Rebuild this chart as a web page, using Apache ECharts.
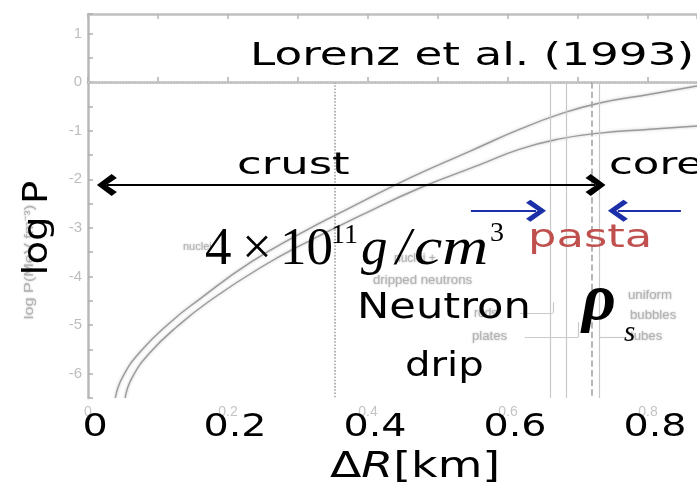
<!DOCTYPE html>
<html>
<head>
<meta charset="utf-8">
<script src="https://cdn.jsdelivr.net/npm/echarts@6/dist/echarts.min.js"></script>
<style>
  html, body { margin: 0; padding: 0; background: #ffffff; }
  #chart { width: 697px; height: 490px; }
</style>
</head>
<body>
<div id="chart"></div>
<script>
// Pressure against depth below the stellar surface (log P vs ΔR in km)
const upperCurve = [
  [0.039, -6.5], [0.049, -6.08], [0.074, -5.56], [0.117, -4.95], [0.16, -4.46],
  [0.231, -3.72], [0.303, -3.12], [0.374, -2.59], [0.46, -1.97], [0.546, -1.42],
  [0.617, -0.97], [0.674, -0.66], [0.731, -0.43], [0.803, -0.25], [0.875, -0.07]
];
const lowerCurve = [
  [0.053, -6.5], [0.063, -6.08], [0.089, -5.56], [0.129, -5.01], [0.174, -4.5],
  [0.246, -3.82], [0.317, -3.26], [0.389, -2.75], [0.474, -2.18], [0.56, -1.7],
  [0.617, -1.38], [0.674, -1.17], [0.731, -1.05], [0.803, -0.97], [0.875, -0.9]
];

// Phase boundaries (km): neutron drip, then the pasta transitions
const boundaryDepths = [0.353, 0.66, 0.683, 0.72, 0.731];
const boundaryKinds  = ['dotted', 'solid', 'solid', 'dashed', 'solid'];

// Axis ticks
const tickValues = [0, 0.2, 0.4, 0.6, 0.8];
const tickLabels = ['0', '0.2', '0.4', '0.6', '0.8'];

// Region arrows (km, tip positions) and the log P level where they sit
const crustSpan = [0.013, 0.739];
const coreSpan  = [0.744, 1.0];
const regionLevel = -2.12;
const pastaFromLeft  = [0.547, 0.654];
const pastaFromRight = [0.847, 0.743];
const pastaLevel = -2.65;

// Leader lines of the small phase labels: [x0, y0, x1, y1]
const leaderLines = [
  [0.617, -4.75, 0.664, -4.75], [0.664, -4.75, 0.664, -4.53],
  [0.624, -5.25, 0.70, -5.25],  [0.70, -5.25, 0.70, -4.94],
  [0.731, -5.25, 0.77, -5.25]
];

const X_MAX = 0.87;          // visible end of the depth axis
const HEAD_INSET = 0.014;    // half a chevron, in km, so the tip lands on the given depth
const CHEVRON = 'path://M11,0 L22,14 L18,19 L11,9 L4,19 L0,14 Z';
const CHEVRON_THIN = 'path://M11,0 L22,14 L19,18 L11,7.5 L3,18 L0,14 Z';
const RAISED = 'DejaVu Sans';
const SERIF = '"Liberation Serif", "Times New Roman", serif';

function arrowPair(a, b, y, color, startHead, endHead, head) {
  const dir = b > a ? 1 : -1;
  const a2 = startHead ? a + dir * HEAD_INSET : a;
  const b2 = endHead ? b - dir * HEAD_INSET : b;
  return [
    { coord: [a2, y], symbol: startHead ? head : 'none', symbolSize: [22, 20],
      lineStyle: { color, width: 2, type: 'solid' }, itemStyle: { color } },
    { coord: [b2, y], symbol: endHead ? head : 'none', symbolSize: [22, 20],
      lineStyle: { color, width: 2, type: 'solid' }, itemStyle: { color } }
  ];
}

const markLines = [];
boundaryDepths.forEach((d, i) => {
  const kind = boundaryKinds[i];
  const col = kind === 'solid' ? '#c8c8c8' : '#a4a4a4';
  markLines.push([
    { coord: [d, 0], lineStyle: { color: col, width: kind === 'solid' ? 1.2 : 1.6, type: kind } },
    { coord: [d, -6.5] }
  ]);
});
markLines.push([
  { coord: [0, 0], lineStyle: { color: '#d2d2d2', width: 1.5, type: 'dotted' } },
  { coord: [X_MAX, 0] }
]);
leaderLines.forEach(l => {
  markLines.push([
    { coord: [l[0], l[1]], lineStyle: { color: '#cacaca', width: 1.2, type: 'solid' } },
    { coord: [l[2], l[3]] }
  ]);
});
markLines.push(arrowPair(crustSpan[0], crustSpan[1], regionLevel, '#000000', true, true, CHEVRON));
markLines.push(arrowPair(coreSpan[0], coreSpan[1], regionLevel, '#000000', true, false, CHEVRON));
markLines.push(arrowPair(pastaFromLeft[0], pastaFromLeft[1], pastaLevel, '#1a2fa8', false, true, CHEVRON_THIN));
markLines.push(arrowPair(pastaFromRight[0], pastaFromRight[1], pastaLevel, '#1a2fa8', false, true, CHEVRON_THIN));

const isMajor = v => Math.abs(v * 5 - Math.round(v * 5)) < 1e-6;
const tickText = v => {
  const i = tickValues.findIndex(t => Math.abs(t - v) < 1e-6);
  return i >= 0 ? tickLabels[i] : '';
};

const curveStyle = {
  color: '#9a9a9a', width: 1.4,
  shadowBlur: 3, shadowColor: 'rgba(140,140,140,0.55)'
};

const chart = echarts.init(document.getElementById('chart'), null, { renderer: 'canvas' });

const option = {
  animation: false,
  backgroundColor: '#ffffff',
  grid: { left: 88, top: 14, right: 0, bottom: 92, show: false, containLabel: false, outerBoundsMode: 'none' },
  xAxis: [
    {
      type: 'value', position: 'bottom', min: 0, max: X_MAX, interval: 0.1,
      axisLine: { lineStyle: { color: '#b8b8b8', width: 2.5 } },
      axisTick: { inside: true, length: 5, lineStyle: { color: '#b0b0b0', width: 1.5 } },
      splitLine: { show: false },
      axisLabel: {
        margin: 7, color: '#c4c4c4', fontSize: 14, fontFamily: 'Liberation Sans',
        showMaxLabel: false,
        formatter: v => (isMajor(v) ? tickText(v) : '')
      }
    },
    {
      type: 'value', position: 'top', min: 0, max: X_MAX, interval: 0.1,
      axisLine: { lineStyle: { color: '#c0c0c0', width: 2.5 } },
      axisTick: { inside: true, length: 5, lineStyle: { color: '#b8b8b8', width: 1.5 } },
      splitLine: { show: false },
      axisLabel: { show: false }
    }
  ],
  yAxis: {
    type: 'value', min: -6.5, max: 1.4, interval: 0.5,
    axisLine: { lineStyle: { color: '#b8b8b8', width: 2.5 } },
    axisTick: { inside: true, length: 5, lineStyle: { color: '#b0b0b0', width: 1.5 } },
    splitLine: { show: false },
    axisLabel: {
      margin: 6, color: '#bdbdbd', fontSize: 15, fontFamily: 'Liberation Sans',
      formatter: v => (Math.abs(v - Math.round(v)) < 1e-6 ? String(Math.round(v)) : '')
    }
  },
  series: [
    {
      type: 'line', data: upperCurve, smooth: true, symbol: 'none',
      lineStyle: curveStyle, silent: true
    },
    {
      type: 'line', data: lowerCurve, smooth: true, symbol: 'none',
      lineStyle: curveStyle, silent: true,
      markLine: {
        silent: true, symbol: 'none', label: { show: false },
        data: markLines
      }
    }
  ]
};
chart.setOption(option);

// Overlay text
function txt(text, x, y, size, opts) {
  opts = opts || {};
  return {
    type: 'text', x, y, scaleX: opts.sx || 1, scaleY: 1, rotation: opts.rot || 0, z: 100,
    style: {
      text, fill: opts.color || '#000000',
      font: (opts.style || 'normal') + ' ' + (opts.weight || 'normal') + ' ' + size + 'px ' + (opts.family || RAISED),
      textAlign: opts.align || 'left', textVerticalAlign: 'middle',
      textShadowBlur: opts.blur || 0, textShadowColor: opts.blur ? (opts.color || '#000') : 'transparent'
    }
  };
}

const faint = { color: '#b4b4b4', family: 'Liberation Sans', blur: 2 };
const graphics = [
  // scanned figure annotations
  txt('log P(MeV fm⁻³)', 29, 262, 13, Object.assign({ rot: Math.PI / 2, align: 'center', sx: 1.25 }, faint)),
  txt('nuclei', 183, 247, 11, faint),
  txt('nuclei +', 394, 259, 12, faint),
  txt('dripped neutrons', 373, 281, 12, Object.assign({ sx: 1.1 }, faint)),
  txt('rods', 474, 314, 12, faint),
  txt('plates', 472, 337, 12, Object.assign({ sx: 1.1 }, faint)),
  txt('uniform', 628, 296, 12, Object.assign({ sx: 1.1 }, faint)),
  txt('bubbles', 630, 316, 12, Object.assign({ sx: 1.1 }, faint)),
  txt('tubes', 630, 337, 12, Object.assign({ sx: 1.1 }, faint)),

  // overlay labels
  txt('Lorenz et al. (1993)', 250, 57, 32, { sx: 1.415 }),
  txt('crust', 237, 166, 31, { sx: 1.45 }),
  txt('core', 609, 166, 31, { sx: 1.4 }),
  txt('pasta', 528, 239, 32, { sx: 1.4, color: '#c0504d' }),
  txt('Neutron', 357, 309, 36, { sx: 1.2 }),
  txt('drip', 405, 367, 33, { sx: 1.22 }),
  {
    type: 'text', x: 330, y: 468, scaleX: 1.31, z: 100,
    style: {
      text: '{n|Δ}{r|R}{n|[km]}', textAlign: 'left', textVerticalAlign: 'middle',
      rich: {
        n: { font: 'normal 35px ' + RAISED, fill: '#000' },
        r: { font: 'italic 35px ' + RAISED, fill: '#000' }
      }
    }
  },
  txt('log P', 38, 228, 34, { rot: Math.PI / 2, align: 'center', sx: 1.14 }),

  // density at neutron drip
  txt('4', 205, 250, 53, { family: SERIF }),
  txt('×', 242, 250, 53, { family: SERIF }),
  txt('10', 280, 250, 53, { family: SERIF }),
  txt('11', 331, 236, 28, { family: SERIF }),
  txt('g', 361, 250, 53, { family: SERIF, style: 'italic' }),
  txt('/', 396, 250, 53, { family: SERIF, style: 'italic' }),
  txt('cm', 414, 250, 53, { family: SERIF, style: 'italic', sx: 1.2 }),
  txt('3', 490, 234, 28, { family: SERIF }),

  // saturation density
  txt('ρ', 582, 302, 66, { family: SERIF, style: 'italic', weight: 'bold' }),
  txt('s', 624, 333, 29, { family: SERIF, style: 'italic' })
];

// Large tick labels placed on the axis scale
tickValues.forEach((v, i) => {
  const px = chart.convertToPixel({ xAxisIndex: 0 }, v);
  graphics.push(txt(tickLabels[i], px + 7, 428, 32, { align: 'center', sx: 1.24 }));
});

chart.setOption({ graphic: graphics });
</script>
</body>
</html>
